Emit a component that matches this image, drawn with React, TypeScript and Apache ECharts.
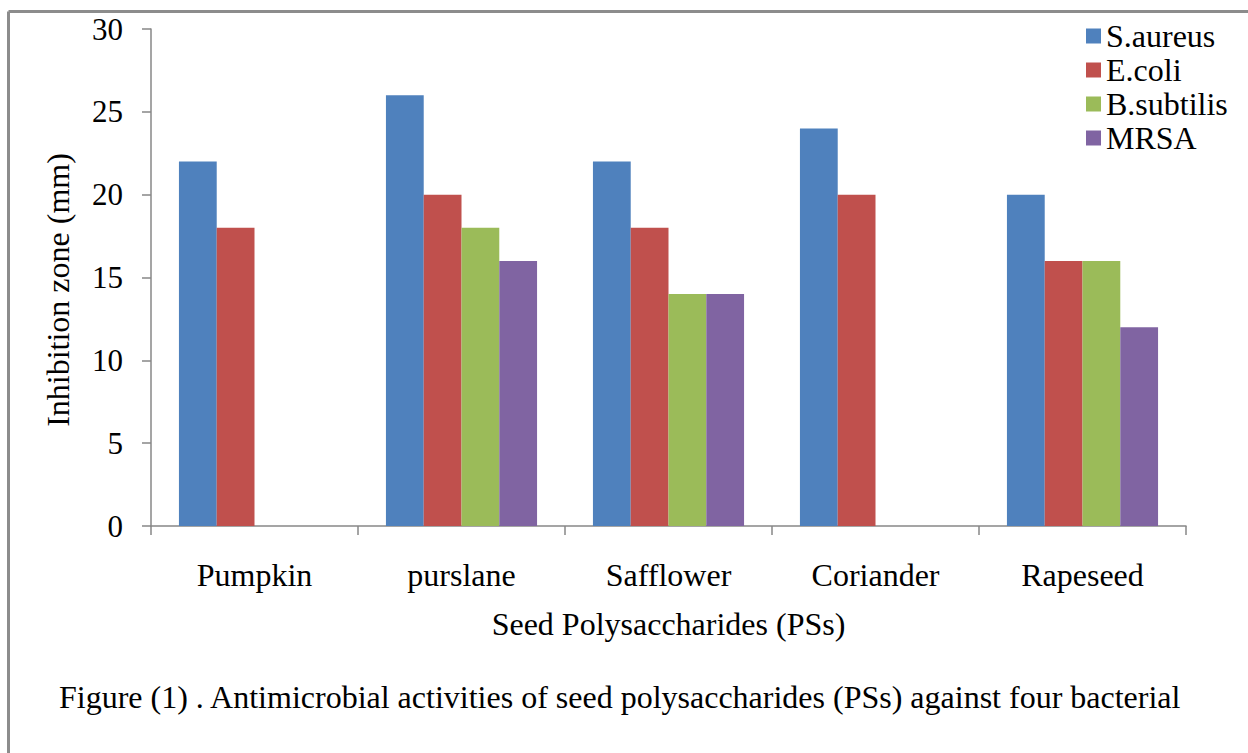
import React, { useEffect, useRef } from "react";
import * as echarts from "echarts";

const categories = ["Pumpkin", "purslane", "Safflower", "Coriander", "Rapeseed"];
const seriesNames = ["S.aureus", "E.coli", "B.subtilis", "MRSA"];
const sAureus = [22, 26, 22, 24, 20];
const eColi = [18, 20, 18, 20, 16];
const bSubtilis = [null, 18, 14, null, 16];
const mrsa = [null, 16, 14, null, 12];
const seriesValues = [sAureus, eColi, bSubtilis, mrsa];
const colors = ["#4F81BD", "#C0504D", "#9BBB59", "#8064A2"];
const yMin = 0;
const yMax = 30;
const yInterval = 5;
const yTitle = "Inhibition zone (mm)";
const xTitle = "Seed Polysaccharides (PSs)";
const caption =
  "Figure (1) . Antimicrobial activities of seed polysaccharides (PSs) against four bacterial";

const FONT = "'Liberation Serif', 'Times New Roman', serif";
const AXIS_COLOR = "#878787";

export default function App() {
  const ref = useRef<HTMLDivElement>(null);
  useEffect(() => {
    if (!ref.current) return;
    const chart = echarts.init(ref.current, undefined, { renderer: "svg" });
    chart.setOption({
      animation: false,
      backgroundColor: "#ffffff",
      color: colors,
      textStyle: { fontFamily: FONT },
      grid: { left: 151, right: 62, top: 29, bottom: 227, containLabel: false },
      legend: {
        orient: "vertical",
        left: 1081,
        top: 15,
        itemWidth: 15,
        itemHeight: 15,
        itemGap: 2,
        icon: "rect",
        data: seriesNames,
        textStyle: { fontFamily: FONT, fontSize: 32, color: "#000" },
      },
      xAxis: {
        type: "category",
        data: categories,
        boundaryGap: true,
        axisLine: { show: true, lineStyle: { color: AXIS_COLOR, width: 1.5 } },
        axisTick: { show: true, length: 9, lineStyle: { color: AXIS_COLOR, width: 1.5 } },
        axisLabel: { fontFamily: FONT, fontSize: 32, color: "#000", margin: 33, lineHeight: 32 },
        name: xTitle,
        nameLocation: "middle",
        nameGap: 82,
        nameTextStyle: { fontFamily: FONT, fontSize: 32, color: "#000", lineHeight: 32 },
      },
      yAxis: {
        type: "value",
        min: yMin,
        max: yMax,
        interval: yInterval,
        axisLine: { show: true, lineStyle: { color: AXIS_COLOR, width: 1.5 } },
        axisTick: { show: true, length: 9, lineStyle: { color: AXIS_COLOR, width: 1.5 } },
        splitLine: { show: false },
        axisLabel: { fontFamily: FONT, fontSize: 31, color: "#000", margin: 28 },
      },
      series: seriesNames.map((name, i) => ({
        name,
        type: "bar",
        data: seriesValues[i],
        barGap: "0%",
        barCategoryGap: "27%",
        itemStyle: { color: colors[i] },
      })),
      graphic: [
        {
          type: "line",
          shape: { x1: 8.5, y1: 11.5, x2: 1248, y2: 11.5 },
          style: { stroke: "#8c8c8c", lineWidth: 3 },
        },
        {
          type: "line",
          shape: { x1: 8.5, y1: 11.5, x2: 8.5, y2: 753 },
          style: { stroke: "#8c8c8c", lineWidth: 3 },
        },
        {
          type: "text",
          x: 58,
          y: 290,
          rotation: Math.PI / 2,
          style: {
            text: yTitle,
            fontFamily: FONT,
            fontSize: 32,
            fill: "#000",
            align: "center",
            verticalAlign: "middle",
          },
        },
        {
          type: "text",
          left: 59,
          top: 681,
          style: { text: caption, fontFamily: FONT, fontSize: 32, fill: "#000" },
        },
      ],
    });
    return () => chart.dispose();
  }, []);
  return (
    <div
      ref={ref}
      style={{ position: "absolute", left: 0, top: 0, width: 1248, height: 753 }}
    />
  );
}
